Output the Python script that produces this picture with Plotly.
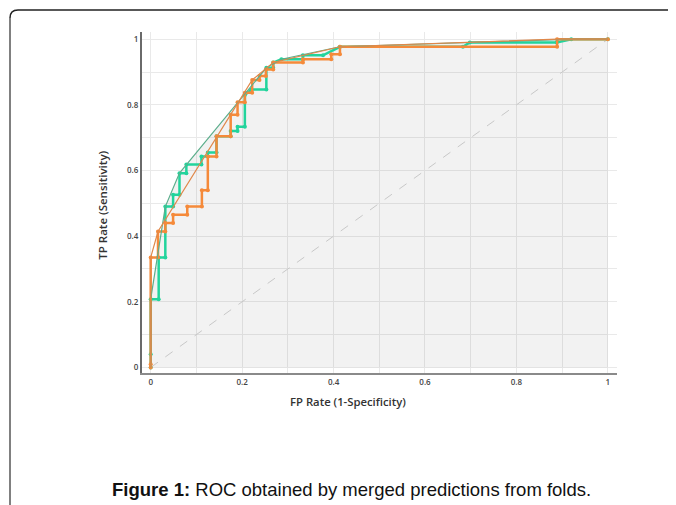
import plotly.graph_objects as go

# ---- data ----
green_fpr = [0, 0, 0, 0.0175, 0.0175, 0.032, 0.032, 0.049, 0.049, 0.063, 0.063, 0.078, 0.078,
             0.111, 0.111, 0.125, 0.125, 0.144, 0.144, 0.175, 0.175, 0.19, 0.19, 0.206, 0.206,
             0.22, 0.253, 0.253, 0.268, 0.268, 0.286, 0.333, 0.333, 0.377, 0.414, 0.683, 0.698,
             0.888, 0.92, 1.0]
green_tpr = [0, 0.04, 0.208, 0.208, 0.335, 0.335, 0.49, 0.49, 0.526, 0.526, 0.592, 0.592, 0.618,
             0.618, 0.643, 0.643, 0.655, 0.655, 0.704, 0.704, 0.72, 0.72, 0.733, 0.733, 0.83,
             0.847, 0.847, 0.913, 0.913, 0.929, 0.939, 0.939, 0.951, 0.951, 0.977, 0.977, 0.99,
             0.99, 1.0, 1.0]

orange_fpr = [0, 0, 0, 0.016, 0.016, 0.032, 0.032, 0.049, 0.049, 0.08, 0.08, 0.112, 0.112,
              0.125, 0.125, 0.144, 0.144, 0.175, 0.175, 0.19, 0.19, 0.206, 0.206, 0.222, 0.222,
              0.238, 0.238, 0.252, 0.252, 0.268, 0.268, 0.333, 0.333, 0.395, 0.395, 0.414, 0.414,
              0.889, 0.889, 1.0]
orange_tpr = [0, 0.01, 0.335, 0.335, 0.414, 0.414, 0.44, 0.44, 0.465, 0.465, 0.49, 0.49, 0.54,
              0.54, 0.643, 0.643, 0.704, 0.704, 0.77, 0.77, 0.808, 0.808, 0.837, 0.837, 0.876,
              0.876, 0.888, 0.888, 0.908, 0.908, 0.929, 0.929, 0.939, 0.939, 0.954, 0.954, 0.977,
              0.977, 1.0, 1.0]

green_hull_fpr = [0, 0, 0.032, 0.063, 0.253, 0.286, 0.414, 0.698, 0.92, 1.0]
green_hull_tpr = [0, 0.208, 0.49, 0.592, 0.913, 0.939, 0.977, 0.99, 1.0, 1.0]

orange_hull_fpr = [0, 0, 0.016, 0.222, 0.268, 0.414, 0.889, 1.0]
orange_hull_tpr = [0, 0.335, 0.414, 0.876, 0.929, 0.977, 1.0, 1.0]

diag = [0, 1]
tick_vals = [0, 0.2, 0.4, 0.6, 0.8, 1]
tick_text = ["0", "0.2", "0.4", "0.6", "0.8", "1"]

GREEN = "#22d49c"
ORANGE = "#f58a3a"

fig = go.Figure()
fig.add_trace(go.Scatter(x=green_hull_fpr, y=green_hull_tpr, mode="lines", fill="tozeroy",
                         fillcolor="rgba(0,0,0,0.05)", line=dict(width=0), hoverinfo="skip"))
fig.add_trace(go.Scatter(x=diag, y=diag, mode="lines",
                         line=dict(color="#c8c8c8", width=1, dash="dash")))
fig.add_trace(go.Scatter(x=green_fpr, y=green_tpr, mode="lines+markers",
                         line=dict(color=GREEN, width=2.5), marker=dict(size=4, color=GREEN)))
fig.add_trace(go.Scatter(x=orange_fpr, y=orange_tpr, mode="lines+markers",
                         line=dict(color=ORANGE, width=2.5), marker=dict(size=4, color=ORANGE)))
fig.add_trace(go.Scatter(x=green_hull_fpr, y=green_hull_tpr, mode="lines",
                         line=dict(color="#5cae8c", width=1.2)))
fig.add_trace(go.Scatter(x=orange_hull_fpr, y=orange_hull_tpr, mode="lines",
                         line=dict(color="#e0884a", width=1.2)))

tickfont = dict(family="Open Sans", size=8, color="#444", weight=600)
fig.update_xaxes(range=[-0.019, 1.02], tickvals=tick_vals, ticktext=tick_text,
                 showgrid=True, gridcolor="#e9e9e9", gridwidth=1,
                 minor=dict(dtick=0.1, tick0=0, showgrid=True, gridcolor="#e9e9e9", gridwidth=1),
                 zeroline=False, showline=True, linecolor="#8a8a8a", linewidth=2,
                 tickfont=tickfont, ticks="")
fig.update_yaxes(range=[-0.017, 1.022], tickvals=tick_vals, ticktext=tick_text,
                 showgrid=True, gridcolor="#e9e9e9", gridwidth=1,
                 minor=dict(dtick=0.1, tick0=0, showgrid=True, gridcolor="#e9e9e9", gridwidth=1),
                 zeroline=False, showline=True, linecolor="#6a6a6a", linewidth=2,
                 tickfont=tickfont, ticks="")

fig.update_layout(
    width=668, height=497,
    margin=dict(l=134, r=59, t=24, b=132),
    paper_bgcolor="white", plot_bgcolor="white",
    showlegend=False,
    annotations=[
        dict(text="TP Rate (Sensitivity)", xref="paper", yref="paper", x=-0.0827, y=0.4927,
             textangle=-90, showarrow=False, xanchor="center", yanchor="middle",
             font=dict(family="Open Sans", size=11.5, color="#333", weight=600)),
        dict(text="FP Rate (1-Specificity)", xref="paper", yref="paper", x=0.4337, y=-0.085,
             showarrow=False, xanchor="center", yanchor="middle",
             font=dict(family="Open Sans", size=11.3, color="#333", weight=600)),
        dict(text="<b>Figure 1:</b> ROC obtained by merged predictions from folds.",
             xref="paper", yref="paper", x=0.44, y=-0.343, showarrow=False,
             xanchor="center", yanchor="middle",
             font=dict(family="Liberation Sans, Arial", size=18.5, color="#111")),
    ],
    shapes=[
        dict(type="line", xref="paper", yref="paper", x0=-0.2779, x1=-0.2779, y0=-0.40, y1=1.0411,
             line=dict(color="#808080", width=2)),
        dict(type="path", xref="paper", yref="paper",
             path="M -0.2779,1.0411 Q -0.2779,1.0645 -0.2611,1.0645 L 1.13,1.0645",
             line=dict(color="#222", width=1.5)),
    ],
)

fig.write_html("out.html")
